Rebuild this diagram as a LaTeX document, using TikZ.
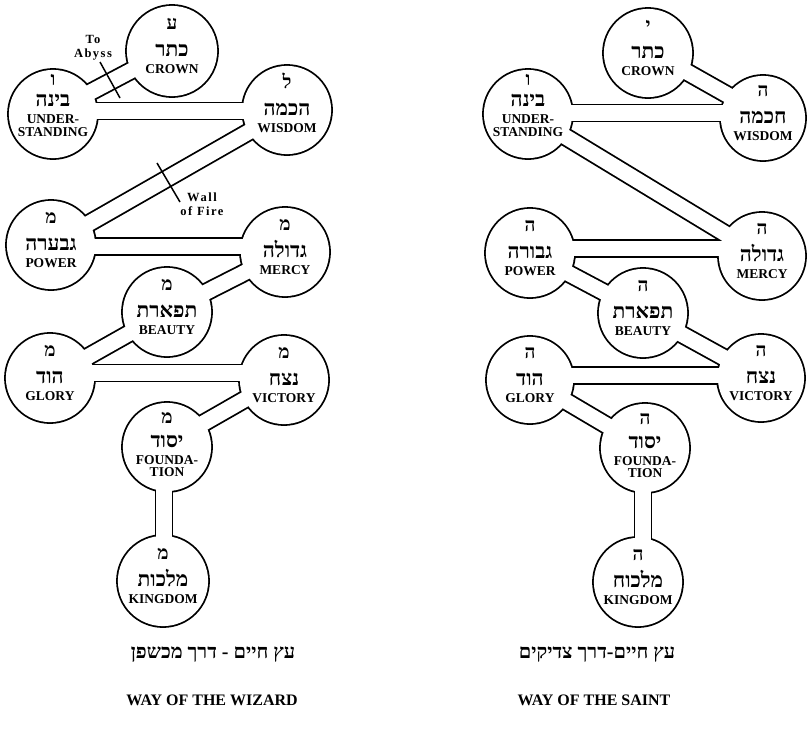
\documentclass[tikz,border=0pt]{standalone}
\usepackage{fontspec}
\setmainfont{Liberation Serif}
\newfontfamily\hebfont[Script=Hebrew]{Liberation Serif}
\TeXXeTstate=1
\tikzset{
  hebl/.style={font=\hebfont\bfseries\fontsize{19}{19}\selectfont, inner sep=0pt},
  hebw/.style={font=\hebfont\bfseries\fontsize{21}{21}\selectfont, inner sep=0pt},
  eng/.style={font=\bfseries\fontsize{13.5}{13.5}\selectfont, inner sep=0pt},
  note/.style={font=\bfseries\fontsize{12.5}{14}\selectfont\addfontfeature{LetterSpace=12}, inner sep=0pt, align=center},
  hebcap/.style={font=\hebfont\bfseries\fontsize{20}{20}\selectfont, inner sep=0pt},
  engcap/.style={font=\bfseries\fontsize{16}{16}\selectfont, inner sep=0pt},
  pointer/.style={draw=black, line width=1.5pt}
}
\newcommand\sefone[4]{%
  \node[hebl, anchor=base] (#1l) at ([yshift=22pt]#1) {\beginR #2\endR};
  \node[hebw, anchor=base] (#1w) at ([yshift=-5pt]#1) {\beginR #3\endR};
  \node[eng, anchor=base] (#1e) at ([yshift=-22pt]#1) {#4};
}
% name, letter, word, line1, line2, letter-y, word-y, line1-y, line2-y
\newcommand\seftwo[9]{%
  \node[hebl, anchor=base] (#1l) at ([yshift=#6pt]#1) {\beginR #2\endR};
  \node[hebw, anchor=base] (#1w) at ([yshift=#7pt]#1) {\beginR #3\endR};
  \node[eng, anchor=base] (#1e) at ([yshift=#8pt]#1) {#4};
  \node[eng, anchor=base] (#1f) at ([yshift=#9pt]#1) {#5};
}
\def\sefiralist{crownL/172/51/46, binahL/53/114/45, chokmahL/287/110/45, gevurahL/51/245/45, gedulahL/285/252/45, tipharethL/167/312/45, hodL/50/378/45, netzachL/284/380/45, yesodL/167/447/45, malkuthL/163/581/46,
 crownR/648/53/45, binahR/528/114/45, chokmahR/763/118/43, gevurahR/530/253/45, gedulahR/762/256/44, tipharethR/643/313/45, hodR/530/380/44, netzachR/761/378/44, yesodR/645/448/45, malkuthR/638/582/45}
\def\chanlist{crownL/0/2/binahL/0/2, binahL/0/3/chokmahL/0/-1, chokmahL/0/0/gevurahL/0/0, gevurahL/0/-1.5/gedulahL/0/5.5, gedulahL/0/0/tipharethL/0/0, tipharethL/0/0/hodL/0/0, hodL/0/5/netzachL/0/7, netzachL/0/3/yesodL/0/3, yesodL/-3/0/malkuthL/1/0,
 crownR/0/3/chokmahR/0/3, chokmahR/0/5/binahR/0/1, binahR/0/0/gedulahR/0/0, gedulahR/0/7.5/gevurahR/0/4.5, gevurahR/0/0/tipharethR/0/0, tipharethR/0/0/netzachR/0/0, netzachR/0/2.5/hodR/0/4.5, hodR/0/0/yesodR/0/0, yesodR/-2/0/malkuthR/5/0}
\begin{document}
\begin{tikzpicture}[x=1pt,y=-1pt]
\useasboundingbox (0,0) rectangle (807,729);
\fill[white] (0,0) rectangle (807,729);
\foreach \n/\x/\y/\r in \sefiralist { \coordinate (\n) at (\x,\y); }
% black layer
\foreach \n/\x/\y/\r in \sefiralist { \fill[black] (\n) circle[radius={(\r+0.9)*1pt}]; }
\foreach \a/\ax/\ay/\b/\bx/\by in \chanlist {
  \draw[black, line width=18.8pt] ([shift={(\ax pt,\ay pt)}]\a) -- ([shift={(\bx pt,\by pt)}]\b); }
% white layer
\foreach \n/\x/\y/\r in \sefiralist { \fill[white] (\n) circle[radius={(\r-0.9)*1pt}]; }
\foreach \a/\ax/\ay/\b/\bx/\by in \chanlist {
  \draw[white, line width=15.2pt] ([shift={(\ax pt,\ay pt)}]\a) -- ([shift={(\bx pt,\by pt)}]\b); }
% texts left
\sefone{crownL}{ע}{כתר}{CROWN}
\seftwo{binahL}{ו}{בינה}{UNDER-}{STANDING}{29}{8}{-9}{-22}
\sefone{chokmahL}{ל}{הכמה}{WISDOM}
\sefone{gevurahL}{מ}{גבערה}{POWER}
\sefone{gedulahL}{מ}{גדולה}{MERCY}
\sefone{tipharethL}{מ}{תפארת}{BEAUTY}
\sefone{hodL}{מ}{הוד}{GLORY}
\sefone{netzachL}{מ}{נצח}{VICTORY}
\seftwo{yesodL}{מ}{יסוד}{FOUNDA-}{TION}{24}{0}{-17}{-29}
\sefone{malkuthL}{מ}{מלכות}{KINGDOM}
% texts right
\sefone{crownR}{י}{כתר}{CROWN}
\seftwo{binahR}{ו}{בינה}{UNDER-}{STANDING}{29}{8}{-9}{-22}
\sefone{chokmahR}{ה}{חכמה}{WISDOM}
\sefone{gevurahR}{ה}{גבורה}{POWER}
\sefone{gedulahR}{ה}{גדולה}{MERCY}
\sefone{tipharethR}{ה}{תפארת}{BEAUTY}
\sefone{hodR}{ה}{הוד}{GLORY}
\sefone{netzachR}{ה}{נצח}{VICTORY}
\seftwo{yesodR}{ה}{יסוד}{FOUNDA-}{TION}{24}{0}{-17}{-29}
\sefone{malkuthR}{ה}{מלכוח}{KINGDOM}
% annotations
\node[note] (abyss) at (93,48) {To\\Abyss};
\coordinate (abA) at (100,62); \coordinate (abB) at (120,98);
\draw[pointer] (abA) -- (abB);
\node[note] (wall) at (202,204) {Wall\\of Fire};
\coordinate (wfA) at (157,163); \coordinate (wfB) at (180,202);
\draw[pointer] (wfA) -- (wfB);
% captions
\node[hebcap] (capHL) at (213,655) {\beginR עץ חיים - דרך מכשפן\endR};
\node[engcap] (capEL) at (212,700) {WAY OF THE WIZARD};
\node[hebcap] (capHR) at (597,655) {\beginR עץ חיים-דרך צדיקים\endR};
\node[engcap] (capER) at (594,700) {WAY OF THE SAINT};
\end{tikzpicture}
\end{document}
